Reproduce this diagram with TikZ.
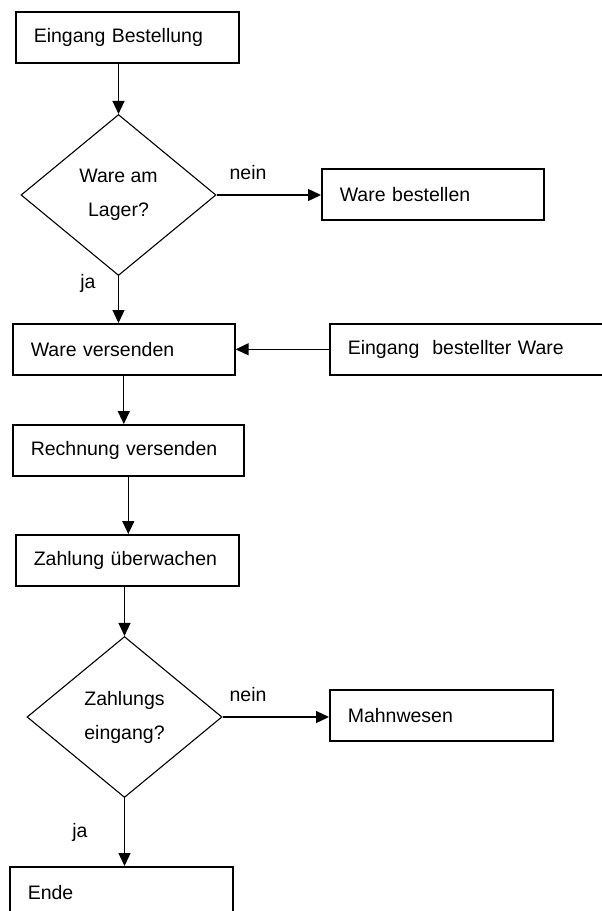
\documentclass[tikz,border=0pt]{standalone}
\usepackage{fontspec}
\setmainfont{Liberation Sans}
\usetikzlibrary{arrows.meta,shapes.geometric,calc}
\begin{document}
\begin{tikzpicture}[x=1pt,y=-1pt,
  font=\fontsize{19.5}{34}\selectfont,
  box/.style={draw=black,line width=1.6pt,rectangle,anchor=north west,
    inner xsep=18pt,inner ysep=0pt,align=left,minimum height=51pt},
  dec/.style={draw=black,line width=1.1pt,diamond,minimum width=195pt,
    minimum height=161pt,inner sep=0pt,align=center},
  conn/.style={line width=1.3pt,-{Triangle[length=13pt,width=12pt]}},
  lbl/.style={inner sep=0pt}]
\useasboundingbox (0,0) rectangle (602,911);
\clip (0,0) rectangle (602,911);
\node[box,text width=187pt] (eb) at (15,11) {Eingang Bestellung};
\node[dec] (d1) at (118.5,195) {Ware am\\Lager?};
\node[box,text width=186pt] (wb) at (321,168) {Ware bestellen};
\node[box,text width=186pt] (wv) at (12,323) {Ware versenden};
\node[box,text width=300pt] (ebw) at (329,323) {Eingang\ \ bestellter Ware};
\node[box,text width=195pt] (rv) at (12,424) {Rechnung versenden};
\node[box,text width=187pt] (zu) at (15,534) {Zahlung überwachen};
\node[dec] (d2) at (124.5,717) {Zahlungs\\eingang?};
\node[box,text width=187pt] (mw) at (329,689) {Mahnwesen};
\node[box,text width=187pt] (ende) at (9,866) {Ende};
\node[lbl] (n1) at (248,173) {nein};
\node[lbl] (j1) at (88,283) {ja};
\node[lbl] (n2) at (248,695) {nein};
\node[lbl] (j2) at (80,832) {ja};
\draw[conn] (eb.south -| d1.north) -- (d1.north);
\draw[conn] (d1.east) -- (d1.east -| wb.west);
\draw[conn] (d1.south) -- (d1.south |- wv.north);
\draw[conn] (ebw.west) -- (wv.east);
\draw[conn] (wv.south) -- (wv.south |- rv.north);
\draw[conn] (rv.south) -- (rv.south |- zu.north);
\draw[conn] (d2.north |- zu.south) -- (d2.north);
\draw[conn] (d2.east) -- (d2.east -| mw.west);
\draw[conn] (d2.south) -- (d2.south |- ende.north);
\end{tikzpicture}
\end{document}
